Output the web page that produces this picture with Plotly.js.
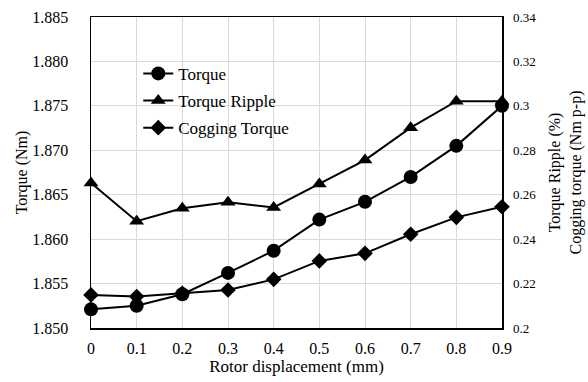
<!DOCTYPE html>
<html>
<head>
<meta charset="utf-8">
<script src="https://cdn.plot.ly/plotly-3.0.1.min.js"></script>
<style>html,body{margin:0;padding:0;background:#fff;}#chart{width:588px;height:382px;}</style>
</head>
<body>
<div id="chart"></div>
<script>
const displacement = [0, 0.1, 0.2, 0.3, 0.4, 0.5, 0.6, 0.7, 0.8, 0.9];
const torque = [1.8521, 1.8525, 1.8538, 1.8562, 1.8587, 1.8622, 1.8642, 1.8670, 1.8705, 1.8750];
const torqueRipple = [0.2653, 0.2481, 0.2539, 0.2566, 0.2543, 0.2648, 0.2756, 0.2902, 0.3021, 0.3021];
const coggingTorque = [0.2149, 0.2142, 0.2156, 0.2171, 0.2219, 0.2302, 0.2336, 0.2422, 0.2498, 0.2546];

const font = 'Liberation Serif';
const line = {color: '#000', width: 2};

const traces = [
  {x: displacement, y: torque, name: 'Torque', type: 'scatter', mode: 'lines+markers',
   line: line, marker: {symbol: 'circle', size: 14, color: '#000'}, cliponaxis: false, legendgroup: 'a'},
  {x: displacement, y: torqueRipple, name: 'Torque Ripple', type: 'scatter', mode: 'lines+markers', yaxis: 'y2',
   line: line, marker: {symbol: 'triangle-up', size: 13, color: '#000'}, cliponaxis: false, legendgroup: 'b'},
  {x: displacement, y: coggingTorque, name: 'Cogging Torque', type: 'scatter', mode: 'lines+markers', yaxis: 'y2',
   line: line, marker: {symbol: 'diamond', size: 12, color: '#000'}, cliponaxis: false, legendgroup: 'c'}
];

const layout = {
  width: 588, height: 382,
  margin: {l: 91, r: 86, t: 17, b: 54},
  paper_bgcolor: '#fff', plot_bgcolor: '#fff',
  font: {family: font, color: '#000', size: 15},
  showlegend: true,
  legend: {x: 0.115, y: 0.875, xanchor: 'left', yanchor: 'top', bgcolor: 'rgba(0,0,0,0)',
           font: {family: font, size: 17, color: '#000'}, traceorder: 'grouped', tracegroupgap: 2, itemwidth: 30},
  xaxis: {range: [0, 0.9], dtick: 0.1, tick0: 0, showgrid: true, gridcolor: '#d9d9d9', gridwidth: 1,
          showline: true, linecolor: '#000', linewidth: 1.5, mirror: true, zeroline: false, ticks: '',
          ticklabelstandoff: 5,
          tickfont: {family: font, size: 16, color: '#000'},
          title: {text: 'Rotor displacement (mm)', font: {family: font, size: 17, color: '#000'}, standoff: 1}},
  yaxis: {range: [1.850, 1.885], dtick: 0.005, tick0: 1.85, tickformat: '.3f', showgrid: true, gridcolor: '#d9d9d9',
          gridwidth: 1, showline: true, linecolor: '#000', linewidth: 1.5, mirror: true, zeroline: false, ticks: '',
          ticklabelstandoff: 18,
          tickfont: {family: font, size: 16, color: '#000'},
          title: {text: 'Torque (Nm)', font: {family: font, size: 16, color: '#000'}, standoff: 0}},
  yaxis2: {range: [0.2, 0.34], dtick: 0.02, tick0: 0.2, overlaying: 'y', side: 'right', showgrid: false,
           zeroline: false, showline: false, ticks: '', ticklabelstandoff: 10,
           tickfont: {family: font, size: 13, color: '#000'},
           title: {text: 'Torque Ripple (%)<br>Cogging torque (Nm p-p)', font: {family: font, size: 16, color: '#000'}, standoff: 13}}
};

Plotly.newPlot('chart', traces, layout, {staticPlot: true, displayModeBar: false});
</script>
</body>
</html>
